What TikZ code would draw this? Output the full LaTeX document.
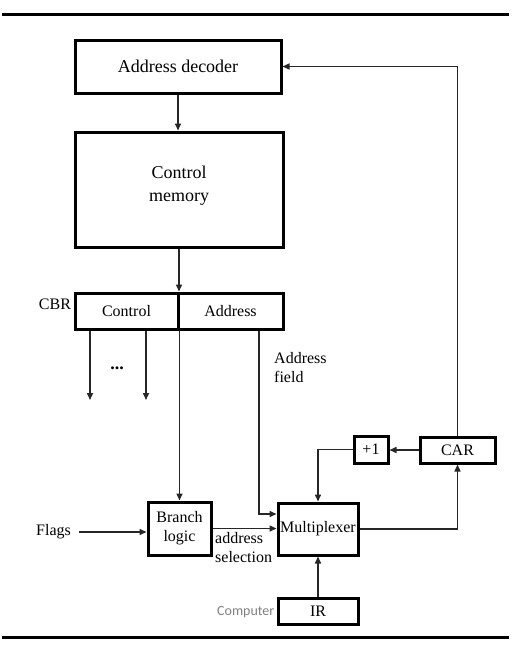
\documentclass[tikz,border=0pt]{standalone}
\usepackage{fontspec}
\setmainfont{Liberation Serif}
\newfontfamily\calibri{Carlito}
\usetikzlibrary{arrows.meta}
\begin{document}
\begin{tikzpicture}[x=1pt,y=-1pt,
  box/.style={draw=black,line width=3pt,inner sep=0pt,align=center,font=\fontsize{16}{19}\selectfont},
  bigbox/.style={box,font=\fontsize{18}{23}\selectfont},
  lbl/.style={inner sep=0pt,align=left,font=\fontsize{16}{19}\selectfont},
  conn/.style={draw=black!85,line width=1.5pt},
  arr/.style={conn,-{Triangle[length=7pt,width=6pt]}},
  rule/.style={line width=3pt,black}]
\useasboundingbox (0,0) rectangle (532,651);
\draw[rule] (2,14) -- (509,14);
\draw[rule] (2,637) -- (509,637);

\node[bigbox,minimum width=206pt,minimum height=53pt] (dec) at (178,66.5) {Address decoder};
\node[bigbox,minimum width=208pt,minimum height=115pt,text depth=12pt] (mem) at (179,189.5) {Control\\memory};
\node[box,minimum width=103pt,minimum height=36pt] (ctl) at (126.5,311) {Control};
\node[box,minimum width=105pt,minimum height=36pt] (adr) at (230.5,311) {Address};
\node[box,minimum width=63pt,minimum height=53pt] (br) at (179.5,528.5) {Branch\\logic};
\node[box,minimum width=80pt,minimum height=52pt] (mux) at (318,529) {Multiplexer};
\node[box,minimum width=34pt,minimum height=27pt] (plus) at (371,449.5) {+1};
\node[box,minimum width=75pt,minimum height=26pt] (car) at (457.5,450) {CAR};
\node[box,minimum width=80pt,minimum height=26pt] (ir) at (318,611) {IR};

\node[lbl] (cbr) at (55,304) {CBR};
\node[lbl,font=\fontsize{18}{19}\selectfont] (dots) at (117,368) {\textbf{...}};
\node[lbl,anchor=west] (afield) at (274,367.5) {Address\\field};
\node[lbl] (flags) at (53.5,532) {Flags};
\node[lbl,anchor=west] (asel) at (215,547.5) {address\\selection};
\node[inner sep=0pt,anchor=east,text=black!50,font=\calibri\fontsize{14}{16}\selectfont] (comp) at ([xshift=-2pt,yshift=-1.5pt]ir.west) {Computer};

\coordinate (c1) at (90,400);
\coordinate (c2) at (146,400);
\coordinate (af) at (259,514);
\coordinate (fl) at (79,532);

\draw[arr] (dec.south) -- (dec.south |- mem.north);
\draw[arr] (mem.south) -- (mem.south |- ctl.north);
\draw[arr] (c1 |- ctl.south) -- (c1);
\draw[arr] (c2 |- ctl.south) -- (c2);
\draw[arr] (ctl.south east) -- (ctl.south east |- br.north);
\draw[arr] (af |- adr.south) -- (af) -- (af -| mux.west);
\draw[arr] (fl) -- (fl -| br.west);
\draw[arr] (br.east) -- (br.east -| mux.west);
\draw[arr] (car.west) -- (car.west -| plus.east);
\draw[arr] (plus.west) -| (mux.north);
\draw[arr] (mux.east) -| (car.south);
\draw[arr] (car.north) |- (dec.east);
\draw[arr] (ir.north) -- (mux.south);
\end{tikzpicture}
\end{document}
